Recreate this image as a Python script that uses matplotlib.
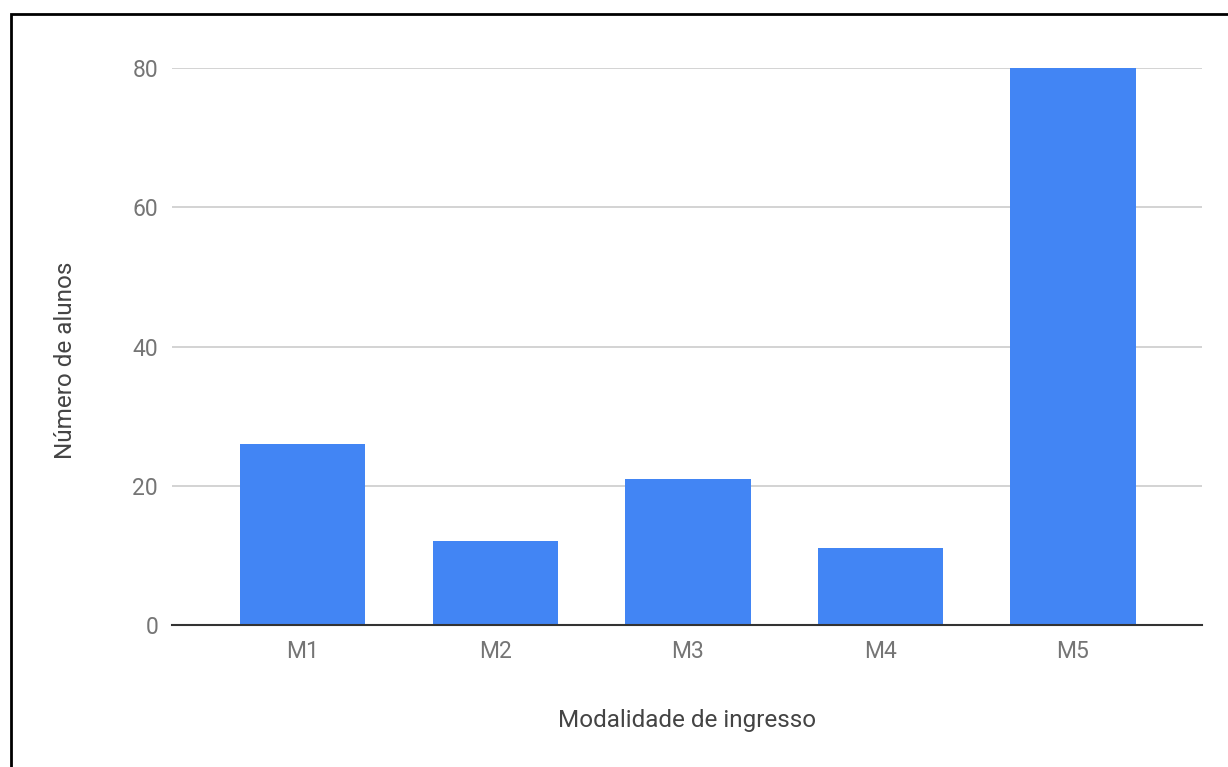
import matplotlib
matplotlib.use("Agg")
import matplotlib.pyplot as plt
from matplotlib.patches import Rectangle

# dados do gráfico
modalidades = ["M1", "M2", "M3", "M4", "M5"]
alunos = [26, 12, 21, 11, 80]
yticks = [0, 20, 40, 60, 80]

plt.rcParams['font.family'] = ['Roboto', 'DejaVu Sans']

fig = plt.figure(figsize=(12.28, 7.67), dpi=100)
ax = fig.add_axes([172 / 1228, 142 / 767, 1030 / 1228, 557 / 767])

ax.bar(range(len(modalidades)), alunos, width=0.65, color="#4285F4", zorder=3, clip_on=False)

ax.set_xlim(-0.68, 4.67)
ax.set_ylim(0, 80)
ax.set_yticks(yticks)
ax.set_xticks(range(len(modalidades)))
ax.set_xticklabels(modalidades)

ax.grid(axis="y", color="#cccccc", linewidth=1.2, zorder=0)
for s in ["top", "right", "left"]:
    ax.spines[s].set_visible(False)
ax.spines["bottom"].set_color("#333333")
ax.spines["bottom"].set_linewidth(1.5)
ax.spines["bottom"].set_zorder(4)

ax.tick_params(axis="both", length=0, labelsize=16.5, labelcolor="#757575")
ax.tick_params(axis="y", pad=10)
ax.tick_params(axis="x", pad=11)

ax.set_xlabel("Modalidade de ingresso", fontsize=17.5, color="#444444")
ax.set_ylabel("Número de alunos", fontsize=17.5, color="#444444")
ax.xaxis.set_label_coords((687 - 172) / 1030, -(720 - 625) / 557)
ax.yaxis.set_label_coords(-(172 - 65) / 1030, (625 - 360) / 557)
ax.xaxis.label.set_va("center")
ax.yaxis.label.set_va("center")

# moldura da imagem original
fig.add_artist(Rectangle((10.5 / 1228, -0.1), 1.2, (767 - 13.5) / 767 + 0.1,
                         transform=fig.transFigure, fill=False,
                         edgecolor="black", linewidth=2))

fig.savefig("out.png", dpi=100, facecolor="white")
